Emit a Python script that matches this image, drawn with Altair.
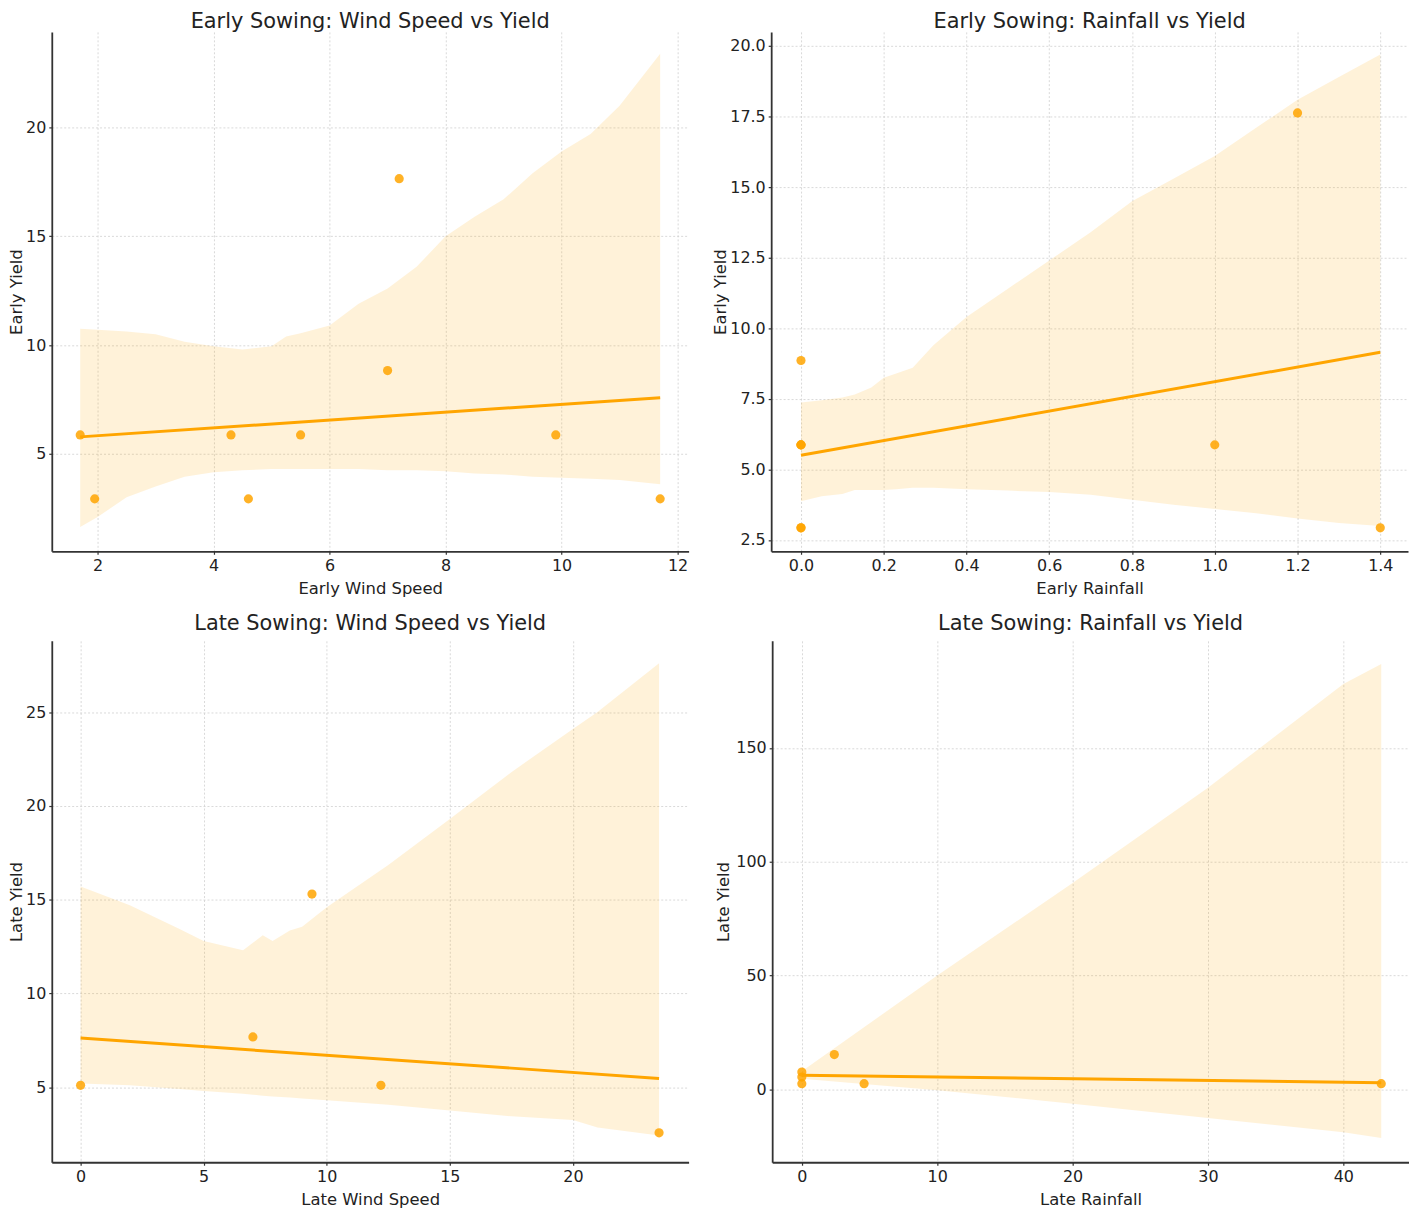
import altair as alt
import pandas as pd

FONT = "DejaVu Sans"
ORANGE = "#FFA500"

# ---------- Panel 1: Early wind speed vs early yield ----------
p1_x = [1.7, 1.95, 4.3, 4.6, 5.5, 7.0, 7.2, 9.9, 11.7]
p1_y = [5.87, 2.93, 5.87, 2.93, 5.87, 8.83, 17.65, 5.87, 2.93]
p1_fit_x = [1.7, 11.7]
p1_fit_y = [5.78, 7.58]
p1_band_x = [1.7, 2.0, 2.5, 3.0, 3.5, 4.0, 4.5, 5.0, 5.25, 5.5, 6.0, 6.5, 7.0,
             7.5, 8.0, 8.5, 9.0, 9.5, 10.0, 10.5, 11.0, 11.7]
p1_band_hi = [10.75, 10.7, 10.62, 10.5, 10.15, 9.95, 9.8, 9.95, 10.4, 10.55, 10.9,
              11.9, 12.6, 13.6, 15.0, 15.9, 16.7, 17.9, 18.9, 19.7, 21.0, 23.4]
p1_band_lo = [1.64, 2.1, 3.0, 3.5, 3.95, 4.15, 4.25, 4.3, 4.3, 4.3, 4.3, 4.3, 4.25,
              4.25, 4.2, 4.1, 4.05, 3.95, 3.9, 3.85, 3.8, 3.6]

# ---------- Panel 2: Early rainfall vs early yield ----------
p2_x = [0.0, 0.0, 0.0, 0.0, 0.0, 0.0, 1.0, 1.2, 1.4]
p2_y = [8.86, 5.87, 5.87, 5.87, 2.93, 2.93, 5.87, 17.63, 2.93]
p2_fit_x = [0.0, 1.4]
p2_fit_y = [5.5, 9.15]
p2_band_x = [0.0, 0.05, 0.1, 0.13, 0.17, 0.2, 0.23, 0.27, 0.32, 0.4, 0.5, 0.6,
             0.7, 0.8, 0.9, 1.0, 1.1, 1.2, 1.3, 1.4]
p2_band_hi = [7.37, 7.45, 7.55, 7.65, 7.9, 8.25, 8.4, 8.6, 9.4, 10.4, 11.4, 12.4,
              13.4, 14.5, 15.3, 16.1, 17.1, 18.1, 18.9, 19.7]
p2_band_lo = [3.87, 4.05, 4.13, 4.27, 4.27, 4.27, 4.3, 4.35, 4.35, 4.3, 4.25, 4.2,
              4.1, 3.93, 3.75, 3.6, 3.45, 3.26, 3.1, 3.0]

# ---------- Panel 3: Late wind speed vs late yield ----------
p3_x = [0.0, 7.0, 9.4, 12.2, 23.5]
p3_y = [5.1, 7.68, 15.3, 5.1, 2.57]
p3_fit_x = [0.0, 23.5]
p3_fit_y = [7.62, 5.47]
p3_band_x = [0.0, 2.0, 4.0, 5.0, 6.6, 7.0, 7.4, 7.8, 8.5, 9.0, 10.0, 12.5, 15.0,
             17.5, 20.0, 21.0, 23.5]
p3_band_hi = [15.7, 14.7, 13.45, 12.8, 12.3, 12.7, 13.1, 12.8, 13.35, 13.55, 14.6,
              16.85, 19.3, 21.8, 24.1, 25.0, 27.6]
p3_band_lo = [5.2, 5.1, 4.9, 4.8, 4.65, 4.6, 4.55, 4.5, 4.45, 4.4, 4.3, 4.07, 3.76,
              3.45, 3.25, 2.85, 2.42]

# ---------- Panel 4: Late rainfall vs late yield ----------
p4_x = [0.0, 0.0, 0.0, 2.4, 4.6, 42.8]
p4_y = [7.6, 5.4, 2.5, 15.3, 2.5, 2.5]
p4_fit_x = [0.0, 42.8]
p4_fit_y = [6.2, 2.9]
p4_band_x = [0.0, 10.0, 20.0, 30.0, 40.0, 42.8]
p4_band_hi = [8.0, 50.0, 90.6, 132.5, 178.0, 186.8]
p4_band_lo = [4.7, -0.4, -6.3, -12.6, -18.8, -21.3]


def panel(title, xlab, ylab, px, py, fx, fy, bx, blo, bhi,
          xdom, ydom, xticks, yticks, xfmt, yfmt, h, toff, ytpad):
    pts = pd.DataFrame({"x": px, "y": py})
    fit = pd.DataFrame({"x": fx, "y": fy})
    band = pd.DataFrame({"x": bx, "lo": blo, "hi": bhi})

    xs = alt.Scale(domain=xdom, nice=False, zero=False)
    ys = alt.Scale(domain=ydom, nice=False, zero=False)
    xax = alt.Axis(title=xlab, values=xticks, format=xfmt)
    yax = alt.Axis(title=ylab, values=yticks, format=yfmt, titlePadding=ytpad)

    area = alt.Chart(band).mark_area(color=ORANGE, opacity=0.15, clip=True).encode(
        x=alt.X("x:Q", scale=xs, axis=xax),
        y=alt.Y("lo:Q", scale=ys, axis=yax),
        y2="hi:Q",
    )
    line = alt.Chart(fit).mark_line(color=ORANGE, strokeWidth=3).encode(
        x=alt.X("x:Q", scale=xs),
        y=alt.Y("y:Q", scale=ys),
    )
    points = alt.Chart(pts).mark_circle(color=ORANGE, opacity=0.85, size=85).encode(
        x=alt.X("x:Q", scale=xs),
        y=alt.Y("y:Q", scale=ys),
    )
    return alt.layer(area, line, points).properties(
        width=640, height=h,
        title=alt.TitleParams(title, fontSize=21, font=FONT, fontWeight="normal",
                              color="#222222", offset=toff),
    )


c1 = panel("Early Sowing: Wind Speed vs Yield", "Early Wind Speed", "Early Yield",
           p1_x, p1_y, p1_fit_x, p1_fit_y, p1_band_x, p1_band_lo, p1_band_hi,
           [1.21, 12.19], [0.52, 24.4], [2, 4, 6, 8, 10, 12], [5, 10, 15, 20], "d", "d",
           522, 0, 1)
c2 = panel("Early Sowing: Rainfall vs Yield", "Early Rainfall", "Early Yield",
           p2_x, p2_y, p2_fit_x, p2_fit_y, p2_band_x, p2_band_lo, p2_band_hi,
           [-0.072, 1.467], [2.1, 20.5], [0.0, 0.2, 0.4, 0.6, 0.8, 1.0, 1.2, 1.4],
           [2.5, 5.0, 7.5, 10.0, 12.5, 15.0, 17.5, 20.0], ".1f", ".1f",
           522, 0, 1)
c3 = panel("Late Sowing: Wind Speed vs Yield", "Late Wind Speed", "Late Yield",
           p3_x, p3_y, p3_fit_x, p3_fit_y, p3_band_x, p3_band_lo, p3_band_hi,
           [-1.17, 24.7], [1.0, 28.8], [0, 5, 10, 15, 20], [5, 10, 15, 20, 25], "d", "d",
           524, 7, 1)
c4 = panel("Late Sowing: Rainfall vs Yield", "Late Rainfall", "Late Yield",
           p4_x, p4_y, p4_fit_x, p4_fit_y, p4_band_x, p4_band_lo, p4_band_hi,
           [-2.19, 44.85], [-32, 197], [0, 10, 20, 30, 40], [0, 50, 100, 150], "d", "d",
           524, 7, 4)

row1 = alt.hconcat(c1, c2, spacing=24)
row2 = alt.hconcat(c3, c4, spacing=27)

chart = alt.vconcat(row1, row2, spacing=16).properties(padding=0).configure_view(
    stroke=None
).configure_axis(
    labelFont=FONT, labelFontSize=16, labelColor="#222222",
    titleFont=FONT, titleFontSize=16.5, titleFontWeight="normal", titleColor="#222222",
    domainColor="#333333", domainWidth=1.8,
    tickColor="#333333", tickSize=3, tickWidth=1.2,
    labelPadding=3,
    gridColor="#cfcfcf", gridDash=[2, 2], gridWidth=0.8,
).configure_axisX(titlePadding=7)

chart.save("out.html", embed_options={"renderer": "svg", "actions": False})
